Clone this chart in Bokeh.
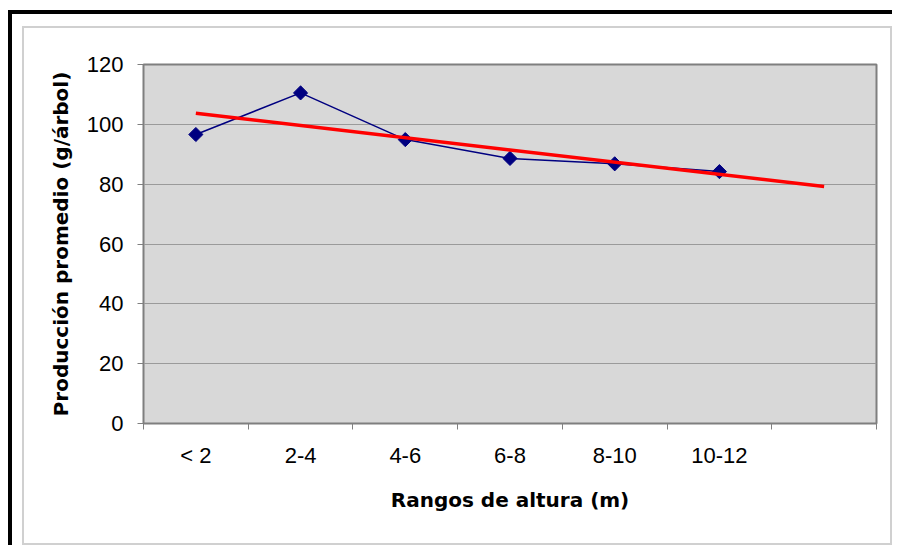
from bokeh.plotting import figure
from bokeh.layouts import column
from bokeh.models import Range1d, FixedTicker, ColumnDataSource
from bokeh.embed import file_html
from bokeh.resources import INLINE

categories = ["< 2", "2-4", "4-6", "6-8", "8-10", "10-12"]
produccion = [96.6, 110.5, 94.9, 88.6, 86.8, 84.2]
trend_x = [1, 7]
trend_y = [103.7, 79.2]
y_ticks = [0, 20, 40, 60, 80, 100, 120]

xs = list(range(1, len(categories) + 1))

p = figure(width=866, height=515, output_backend="svg", toolbar_location=None,
           x_range=Range1d(0.5, 7.5), y_range=Range1d(0, 120),
           min_border_left=119, min_border_right=14, min_border_top=36, min_border_bottom=120)

p.background_fill_color = "#d8d8d8"
p.border_fill_color = "white"
p.outline_line_color = "#7f7f7f"
p.outline_line_width = 2

p.xgrid.visible = False
p.ygrid.ticker = FixedTicker(ticks=y_ticks)
p.ygrid.grid_line_color = "#9a9a9a"
p.ygrid.grid_line_width = 1

xa = p.xaxis[0]
xa.ticker = FixedTicker(ticks=xs, minor_ticks=[i + 0.5 for i in range(0, 8)])
xa.major_label_overrides = {i: c for i, c in zip(xs, categories)}
xa.major_tick_out = 0
xa.major_tick_in = 0
xa.minor_tick_out = 6
xa.minor_tick_in = 0
xa.minor_tick_line_color = "#808080"
xa.axis_line_color = "#7f7f7f"
xa.major_label_text_font = "Liberation Sans"
xa.major_label_text_font_size = "22px"
xa.major_label_text_color = "black"
xa.major_label_standoff = 13
xa.axis_label = "Rangos de altura (m)"
xa.axis_label_text_font = "DejaVu Sans"
xa.axis_label_text_font_style = "bold"
xa.axis_label_text_font_size = "20px"
xa.axis_label_text_color = "black"
xa.axis_label_standoff = 17

ya = p.yaxis[0]
ya.ticker = FixedTicker(ticks=y_ticks)
ya.major_tick_out = 6
ya.major_tick_in = 0
ya.minor_tick_out = 0
ya.minor_tick_in = 0
ya.major_tick_line_color = "#808080"
ya.axis_line_color = "#7f7f7f"
ya.major_label_text_font = "Liberation Sans"
ya.major_label_text_font_size = "22px"
ya.major_label_text_color = "black"
ya.major_label_standoff = 14
ya.axis_label = "Producción promedio (g/árbol)"
ya.axis_label_text_font = "DejaVu Sans"
ya.axis_label_text_font_style = "bold"
ya.axis_label_text_font_size = "20px"
ya.axis_label_text_color = "black"
ya.axis_label_standoff = 11

src = ColumnDataSource(dict(x=xs, y=produccion))
p.line("x", "y", source=src, line_color="#000080", line_width=1.5)
p.scatter("x", "y", source=src, marker="square", angle=0.7854, size=10,
          fill_color="#000080", line_color="#000080")
p.line(trend_x, trend_y, line_color="#ff0000", line_width=3.5)

inner = column(p, styles={"border": "2px solid #d0d0d0", "margin-left": "10px", "margin-top": "12px",
                          "background-color": "white"})
outer = column(inner, styles={"border-top": "4px solid black", "border-left": "4px solid black",
                              "margin-left": "8px", "margin-top": "10px", "background-color": "white"})

open("out.html", "w").write(file_html(outer, INLINE))
